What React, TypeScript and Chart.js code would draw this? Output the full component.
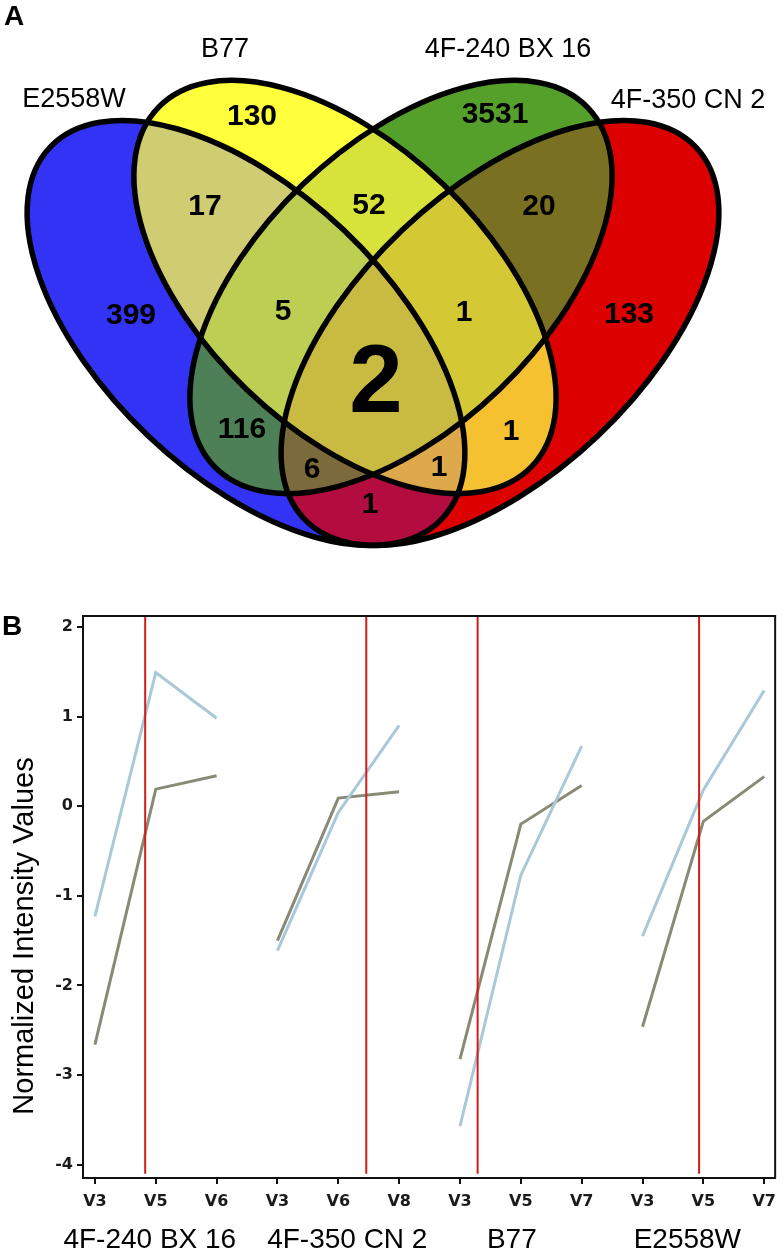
import React, { useEffect, useRef } from 'react';
import { Chart, registerables } from 'chart.js';

Chart.register(...registerables);

// ---------------- Panel A data (Venn) ----------------
const vennSetNames = ['E2558W', 'B77', '4F-240 BX 16', '4F-350 CN 2'];
const vennSetKeys = ['B', 'Y', 'G', 'R'];
const vennRegions = ['B', 'Y', 'G', 'R', 'BY', 'YG', 'GR', 'BYG', 'YGR', 'BYGR', 'BG', 'YR', 'BGR', 'BYR', 'BR'];
const vennCounts = [399, 130, 3531, 133, 17, 52, 20, 5, 1, 2, 116, 1, 6, 1, 1];

// ---------------- Panel B data (profiles) ----------------
const timeLabels = ['V3', 'V5', 'V6', 'V3', 'V6', 'V8', 'V3', 'V5', 'V7', 'V3', 'V5', 'V7'];
const groupNames = ['4F-240 BX 16', '4F-350 CN 2', 'B77', 'E2558W'];
const profileDark = [-2.66, 0.19, 0.34, -1.5, 0.09, 0.16, -2.82, -0.2, 0.23, -2.46, -0.17, 0.33];
const profileLight = [-1.23, 1.49, 0.98, -1.61, -0.07, 0.9, -3.57, -0.77, 0.67, -1.45, 0.18, 1.29];
const separatorPositions = [0.826, 4.46, 6.29, 9.93];
const yTickValues = [-4, -3, -2, -1, 0, 1, 2];

// ---------------- Layout / style ----------------
const W = 784;
const H_A = 590;
const H_B = 663;
const FONT = '"Liberation Sans", Arial, sans-serif';

const ELLIPSES: Record<string, { cx: number; cy: number; a: number; b: number; rot: number }> = {
  B: { cx: 246, cy: 333, a: 270, b: 142, rot: 43.5 },
  Y: { cx: 345, cy: 287, a: 259, b: 142, rot: 43.85 },
  G: { cx: 401, cy: 287, a: 259, b: 142, rot: -43.85 },
  R: { cx: 500, cy: 333, a: 270, b: 142, rot: -43.5 },
};

const REGION_COLORS: Record<string, string> = {
  B: '#3333f6',
  Y: '#ffff3c',
  G: '#55a02a',
  R: '#dc0000',
  BY: '#cfcc72',
  YG: '#d7e33b',
  GR: '#7a7022',
  BYG: '#bccf52',
  YGR: '#d5c835',
  BYGR: '#c9bb42',
  BG: '#4d8057',
  YR: '#f5c131',
  BGR: '#7b6b3c',
  BYR: '#dea94a',
  BR: '#b30d3f',
};

const LABEL_POS: Record<string, [number, number]> = {
  B: [131, 316],
  Y: [252, 117],
  G: [495, 115],
  R: [629, 315],
  BY: [205, 207],
  YG: [369, 206],
  GR: [539, 207],
  BYG: [283, 312],
  YGR: [464, 313],
  BYGR: [376, 386],
  BG: [242, 430],
  YR: [511, 432],
  BGR: [312, 470],
  BYR: [439, 468],
  BR: [370, 505],
};

const SET_LABEL_POS: [number, number][] = [
  [74, 100],
  [225, 50],
  [508, 50],
  [688, 101],
];

const GROUP_LABEL_OFFSETS = [-6, 9, -9, -16];

const Y_MIN = -4.147;
const Y_MAX = 2.121;
const X_MIN = -0.196;
const X_MAX = 11.18;

function ellipsePath(ctx: CanvasRenderingContext2D, cx: number, cy: number, a: number, b: number, rot: number) {
  ctx.moveTo(cx + a * Math.cos(rot), cy + a * Math.sin(rot));
  ctx.ellipse(cx, cy, a, b, rot, 0, Math.PI * 2);
}

const vennPlugin = {
  id: 'vennShapes',
  beforeDatasetsDraw(chart: any) {
    const ctx: CanvasRenderingContext2D = chart.ctx;
    const xs = chart.scales.x;
    const ys = chart.scales.y;
    const sx = (xs.getPixelForValue(100) - xs.getPixelForValue(0)) / 100;
    const geo = vennSetKeys.map((k) => {
      const e = ELLIPSES[k];
      return {
        key: k,
        cx: xs.getPixelForValue(e.cx),
        cy: ys.getPixelForValue(e.cy),
        a: e.a * sx,
        b: e.b * sx,
        rot: (e.rot * Math.PI) / 180,
      };
    });
    const cw = chart.width;
    const ch = chart.height;
    vennRegions.forEach((region) => {
      ctx.save();
      geo.forEach((g) => {
        ctx.beginPath();
        if (region.includes(g.key)) {
          ellipsePath(ctx, g.cx, g.cy, g.a, g.b, g.rot);
          ctx.clip();
        } else {
          ctx.rect(0, 0, cw, ch);
          ellipsePath(ctx, g.cx, g.cy, g.a, g.b, g.rot);
          ctx.clip('evenodd');
        }
      });
      ctx.fillStyle = REGION_COLORS[region];
      ctx.fillRect(0, 0, cw, ch);
      ctx.restore();
    });
    ctx.save();
    ctx.strokeStyle = '#000';
    ctx.lineWidth = 5.5;
    geo.forEach((g) => {
      ctx.beginPath();
      ellipsePath(ctx, g.cx, g.cy, g.a, g.b, g.rot);
      ctx.closePath();
      ctx.stroke();
    });
    ctx.restore();
  },
  afterDatasetsDraw(chart: any) {
    const ctx: CanvasRenderingContext2D = chart.ctx;
    const meta = chart.getDatasetMeta(0);
    ctx.save();
    ctx.fillStyle = '#000';
    ctx.textAlign = 'center';
    ctx.textBaseline = 'middle';
    meta.data.forEach((pt: any, i: number) => {
      const big = vennRegions[i] === 'BYGR';
      ctx.font = `bold ${big ? 96 : 30}px ${FONT}`;
      ctx.fillText(String(vennCounts[i]), pt.x, pt.y);
    });
    ctx.font = `27px ${FONT}`;
    vennSetNames.forEach((name, i) => {
      const [px, py] = SET_LABEL_POS[i];
      ctx.fillText(name, chart.scales.x.getPixelForValue(px), chart.scales.y.getPixelForValue(py));
    });
    ctx.font = `bold 28px ${FONT}`;
    ctx.fillText('A', 14, 17);
    ctx.restore();
  },
};

const profilePlugin = {
  id: 'profileDecor',
  afterDraw(chart: any) {
    const ctx: CanvasRenderingContext2D = chart.ctx;
    const { left, right, top, bottom } = chart.chartArea;
    const xs = chart.scales.x;
    ctx.save();
    ctx.strokeStyle = '#111';
    ctx.lineWidth = 2;
    ctx.strokeRect(left, top, right - left, bottom - top);
    ctx.fillStyle = '#000';
    ctx.textAlign = 'center';
    ctx.textBaseline = 'middle';
    ctx.font = `28px ${FONT}`;
    groupNames.forEach((g, i) => {
      const cx = xs.getPixelForValue(i * 3 + 1) + GROUP_LABEL_OFFSETS[i];
      ctx.fillText(g, cx, 650);
    });
    ctx.save();
    ctx.translate(25, 346);
    ctx.rotate(-Math.PI / 2);
    ctx.font = `29px ${FONT}`;
    ctx.fillText('Normalized Intensity Values', 0, 0);
    ctx.restore();
    ctx.font = `bold 28px ${FONT}`;
    ctx.fillText('B', 12, 37);
    ctx.restore();
  },
};

function withGaps(vals: number[]) {
  const pts: { x: number; y: number | null }[] = [];
  vals.forEach((v, i) => {
    pts.push({ x: i, y: v });
    if (i % 3 === 2 && i < vals.length - 1) pts.push({ x: i + 0.5, y: null });
  });
  return pts;
}

function separatorPoints() {
  const pts: { x: number; y: number | null }[] = [];
  separatorPositions.forEach((p, i) => {
    pts.push({ x: p, y: -4.1 });
    pts.push({ x: p, y: Y_MAX });
    if (i < separatorPositions.length - 1) pts.push({ x: p + 0.1, y: null });
  });
  return pts;
}

export default function App() {
  const refA = useRef<HTMLCanvasElement | null>(null);
  const refB = useRef<HTMLCanvasElement | null>(null);

  useEffect(() => {
    const chartA = new Chart(refA.current as HTMLCanvasElement, {
      type: 'scatter',
      data: {
        datasets: [
          {
            data: vennRegions.map((r) => ({ x: LABEL_POS[r][0], y: LABEL_POS[r][1] })),
            pointRadius: 0,
            pointHoverRadius: 0,
          },
        ],
      },
      options: {
        responsive: false,
        animation: false,
        devicePixelRatio: 1,
        layout: { padding: 0 },
        events: [],
        plugins: { legend: { display: false }, tooltip: { enabled: false } },
        scales: {
          x: { type: 'linear', display: false, min: 0, max: W },
          y: { type: 'linear', display: false, min: 0, max: H_A, reverse: true },
        },
      },
      plugins: [vennPlugin],
    } as any);

    const tickFont = { family: '"DejaVu Sans", sans-serif', weight: 'bold' as const, size: 16 };
    const chartB = new Chart(refB.current as HTMLCanvasElement, {
      type: 'line',
      data: {
        datasets: [
          {
            data: separatorPoints(),
            borderColor: '#d41a1a',
            borderWidth: 2,
            pointRadius: 0,
            order: 0,
            spanGaps: false,
          },
          {
            data: withGaps(profileLight),
            borderColor: '#a9c8d8',
            borderWidth: 3,
            pointRadius: 0,
            tension: 0,
            order: 1,
            spanGaps: false,
          },
          {
            data: withGaps(profileDark),
            borderColor: '#898a76',
            borderWidth: 3,
            pointRadius: 0,
            tension: 0,
            order: 2,
            spanGaps: false,
          },
        ],
      },
      options: {
        responsive: false,
        animation: false,
        devicePixelRatio: 1,
        events: [],
        layout: { padding: { top: 26, right: 3, left: 0, bottom: 0 } },
        plugins: { legend: { display: false }, tooltip: { enabled: false } },
        scales: {
          x: {
            type: 'linear',
            min: X_MIN,
            max: X_MAX,
            afterBuildTicks: (s: any) => {
              s.ticks = timeLabels.map((_, i) => ({ value: i }));
            },
            afterFit: (s: any) => {
              s.height = 75;
            },
            ticks: {
              callback: (v: any) => timeLabels[Math.round(Number(v))] ?? '',
              font: tickFont,
              color: '#1a1a1a',
              padding: 8,
              maxRotation: 0,
              autoSkip: false,
            },
            grid: { drawOnChartArea: false, drawTicks: true, tickLength: 6, color: '#111', lineWidth: 2 },
            border: { display: false },
          },
          y: {
            type: 'linear',
            min: Y_MIN,
            max: Y_MAX,
            afterBuildTicks: (s: any) => {
              s.ticks = yTickValues.map((v) => ({ value: v }));
            },
            afterFit: (s: any) => {
              s.width = 83;
            },
            ticks: {
              callback: (v: any) => String(v),
              font: tickFont,
              color: '#1a1a1a',
              padding: 4,
            },
            grid: { drawOnChartArea: false, drawTicks: true, tickLength: 6, color: '#111', lineWidth: 2 },
            border: { display: false },
          },
        },
      },
      plugins: [profilePlugin],
    } as any);

    return () => {
      chartA.destroy();
      chartB.destroy();
    };
  }, []);

  return (
    <div style={{ position: 'absolute', left: 0, top: 0, width: W, height: H_A + H_B, background: '#fff' }}>
      <canvas ref={refA} width={W} height={H_A} style={{ display: 'block', width: W, height: H_A }} />
      <canvas ref={refB} width={W} height={H_B} style={{ display: 'block', width: W, height: H_B }} />
    </div>
  );
}
